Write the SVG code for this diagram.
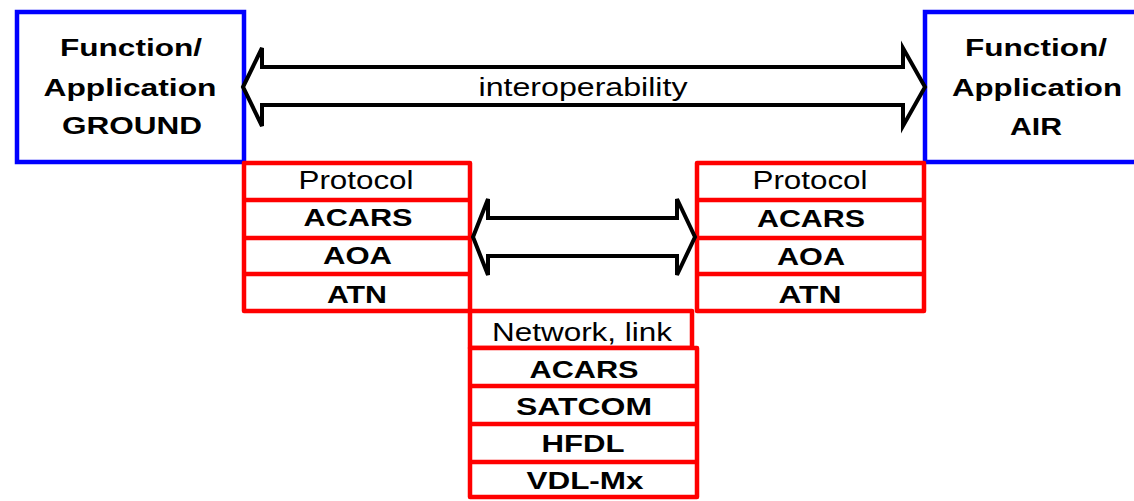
<svg xmlns="http://www.w3.org/2000/svg" width="1134" height="501" viewBox="0 0 1134 501">
<style>
.bg{fill:#fff}
.blue{fill:#fff;stroke:#0000ff;stroke-width:4.5}
.red{fill:#fff;stroke:#ff0000;stroke-width:4.5;stroke-linejoin:round}
.div{stroke:#ff0000;stroke-width:4.5}
.arrow{fill:#fff;stroke:#000;stroke-width:4;stroke-linejoin:miter}
text{font-family:"Liberation Sans",Arial,sans-serif;font-size:26px;fill:#000;text-anchor:middle}
.b{font-weight:bold;font-size:24.5px}
</style>
<rect class="bg" x="0" y="0" width="1134" height="501"/>
<g id="ground">
<rect class="blue" x="17" y="12" width="227" height="150"/>
<text class="b" x="131" y="56" textLength="142" lengthAdjust="spacingAndGlyphs">Function/</text>
<text class="b" x="130" y="96" textLength="173" lengthAdjust="spacingAndGlyphs">Application</text>
<text class="b" x="132" y="134" textLength="140" lengthAdjust="spacingAndGlyphs">GROUND</text>
</g>
<g id="air">
<rect class="blue" x="925" y="12" width="225" height="150"/>
<text class="b" x="1036" y="56" textLength="142" lengthAdjust="spacingAndGlyphs">Function/</text>
<text class="b" x="1037" y="96" textLength="170" lengthAdjust="spacingAndGlyphs">Application</text>
<text class="b" x="1036" y="135" textLength="52" lengthAdjust="spacingAndGlyphs">AIR</text>
</g>
<g id="protocol-ground">
<rect class="red" x="244" y="163" width="226" height="148"/>
<line class="div" x1="244" y1="200" x2="470" y2="200"/>
<line class="div" x1="244" y1="238" x2="470" y2="238"/>
<line class="div" x1="244" y1="274" x2="470" y2="274"/>
<text x="356" y="189" textLength="115" lengthAdjust="spacingAndGlyphs">Protocol</text>
<text class="b" x="358" y="226" textLength="109" lengthAdjust="spacingAndGlyphs">ACARS</text>
<text class="b" x="357.5" y="264" textLength="69" lengthAdjust="spacingAndGlyphs">AOA</text>
<text class="b" x="357" y="303" textLength="60" lengthAdjust="spacingAndGlyphs">ATN</text>
</g>
<g id="protocol-air">
<rect class="red" x="697" y="163" width="227" height="148"/>
<line class="div" x1="697" y1="200" x2="924" y2="200"/>
<line class="div" x1="697" y1="238" x2="924" y2="238"/>
<line class="div" x1="697" y1="274" x2="924" y2="274"/>
<text x="810" y="189" textLength="115" lengthAdjust="spacingAndGlyphs">Protocol</text>
<text class="b" x="811" y="227" textLength="108" lengthAdjust="spacingAndGlyphs">ACARS</text>
<text class="b" x="811" y="265" textLength="68" lengthAdjust="spacingAndGlyphs">AOA</text>
<text class="b" x="810" y="303" textLength="63" lengthAdjust="spacingAndGlyphs">ATN</text>
</g>
<g id="network-link">
<rect class="red" x="470" y="311" width="222" height="37"/>
<text x="582" y="341" textLength="180" lengthAdjust="spacingAndGlyphs">Network, link</text>
</g>
<g id="network-stack">
<rect class="red" x="470" y="348" width="227" height="149"/>
<line class="div" x1="470" y1="386" x2="697" y2="386"/>
<line class="div" x1="470" y1="424" x2="697" y2="424"/>
<line class="div" x1="470" y1="462" x2="697" y2="462"/>
<text class="b" x="584" y="378" textLength="109" lengthAdjust="spacingAndGlyphs">ACARS</text>
<text class="b" x="584" y="415" textLength="136" lengthAdjust="spacingAndGlyphs">SATCOM</text>
<text class="b" x="583" y="452" textLength="83" lengthAdjust="spacingAndGlyphs">HFDL</text>
<text class="b" x="585" y="489" textLength="117" lengthAdjust="spacingAndGlyphs">VDL-Mx</text>
</g>
<g id="connectors">
<polygon class="arrow" points="243,87 262,48 262,67 903,67 903,48 925,87 903,126 903,105 262,105 262,126"/>
<text x="583" y="96" textLength="209" lengthAdjust="spacingAndGlyphs">interoperability</text>
<polygon class="arrow" points="473,237 488,199 488,218 677,218 677,199 695,237 677,275 677,256 488,256 488,275"/>
</g>
</svg>
